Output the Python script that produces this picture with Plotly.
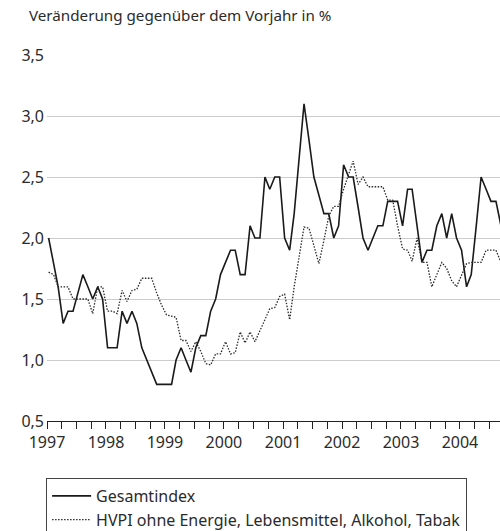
import pandas as pd
import plotly.graph_objects as go

# Monthly data Jan 1997 - Sep 2004 (annual rate in %)
gesamtindex = [
    2.0, 1.8, 1.6, 1.3, 1.4, 1.4, 1.55, 1.7, 1.6, 1.5, 1.6, 1.5,      # 1997
    1.1, 1.1, 1.1, 1.4, 1.3, 1.4, 1.3, 1.1, 1.0, 0.9, 0.8, 0.8,       # 1998
    0.8, 0.8, 1.0, 1.1, 1.0, 0.9, 1.1, 1.2, 1.2, 1.4, 1.5, 1.7,       # 1999
    1.8, 1.9, 1.9, 1.7, 1.7, 2.1, 2.0, 2.0, 2.5, 2.4, 2.5, 2.5,       # 2000
    2.0, 1.9, 2.2, 2.65, 3.1, 2.8, 2.5, 2.35, 2.2, 2.2, 2.0, 2.1,     # 2001
    2.6, 2.5, 2.5, 2.25, 2.0, 1.9, 2.0, 2.1, 2.1, 2.3, 2.3, 2.3,      # 2002
    2.1, 2.4, 2.4, 2.1, 1.8, 1.9, 1.9, 2.1, 2.2, 2.0, 2.2, 2.0,       # 2003
    1.9, 1.6, 1.7, 2.1, 2.5, 2.4, 2.3, 2.3, 2.1,                      # 2004
]
hvpi_kern = [
    1.72, 1.7, 1.6, 1.6, 1.6, 1.5, 1.5, 1.5, 1.5, 1.38, 1.6, 1.6,     # 1997
    1.4, 1.4, 1.38, 1.57, 1.48, 1.57, 1.58, 1.67, 1.67, 1.67, 1.55, 1.45,  # 1998
    1.37, 1.36, 1.35, 1.16, 1.16, 1.07, 1.15, 1.07, 0.97, 0.96, 1.05, 1.05,  # 1999
    1.15, 1.05, 1.06, 1.23, 1.14, 1.23, 1.15, 1.24, 1.33, 1.42, 1.43, 1.52,  # 2000
    1.54, 1.33, 1.6, 1.85, 2.09, 2.08, 1.93, 1.79, 1.98, 2.18, 2.26, 2.26,  # 2001
    2.4, 2.53, 2.63, 2.44, 2.5, 2.42, 2.42, 2.42, 2.42, 2.31, 2.31, 2.1,   # 2002
    1.91, 1.9, 1.81, 2.0, 1.8, 1.8, 1.6, 1.7, 1.8, 1.75, 1.65, 1.6,       # 2003
    1.7, 1.79, 1.8, 1.8, 1.8, 1.9, 1.9, 1.9, 1.8,                         # 2004
]
months = pd.date_range("1997-01-01", periods=len(gesamtindex), freq="MS") + pd.Timedelta(days=10)

series_names = ["Gesamtindex", "HVPI ohne Energie, Lebensmittel, Alkohol, Tabak"]
title_text = "Veränderung gegenüber dem Vorjahr in %"
y_ticks = [0.5, 1.0, 1.5, 2.0, 2.5, 3.0, 3.5]

FONT = "Noto Sans"
TXT = "#2b2b2b"

fig = go.Figure()
fig.add_trace(go.Scatter(x=months, y=gesamtindex, mode="lines", name=series_names[0],
                         line=dict(color="#1a1a1a", width=1.6)))
fig.add_trace(go.Scatter(x=months, y=hvpi_kern, mode="lines", name=series_names[1],
                         line=dict(color="#2a2a2a", width=1.3, dash="1.5px,1.5px")))

fig.add_annotation(text=title_text, xref="paper", yref="paper",
                   x=(27 - 47) / 453, y=1 + (55 - 15) / 366,
                   xanchor="left", yanchor="middle", align="left", showarrow=False,
                   font=dict(family=FONT, size=15.2, color=TXT))

fig.update_layout(
    width=500, height=531,
    margin=dict(l=47, r=0, t=55, b=110, autoexpand=False),
    paper_bgcolor="white", plot_bgcolor="white",
    separators=",.",
    font=dict(family=FONT, size=15, color=TXT),
    showlegend=True,
    legend=dict(x=-0.002, xanchor="left", y=(421 - 478) / 366, yanchor="top",
                bordercolor="#444444", borderwidth=1, bgcolor="white",
                font=dict(family=FONT, size=16, color=TXT),
                itemwidth=39, tracegroupgap=0),
    xaxis=dict(type="date", range=["1997-01-01", "2004-09-05"],
               showgrid=False, zeroline=False,
               showline=True, linecolor="#222222", linewidth=1,
               ticks="outside", ticklen=7, tickcolor="#222222", tickwidth=1,
               dtick="M12", tick0="1997-01-01", tickformat="%Y",
               tickfont=dict(family=FONT, size=16, color=TXT),
               minor=dict(dtick="M3", ticks="outside", ticklen=7,
                          tickcolor="#222222", tickwidth=1, showgrid=False)),
    yaxis=dict(range=[0.5, 3.5], tickvals=y_ticks, tickformat=".1f",
               showgrid=True, gridcolor="#cccccc", gridwidth=1,
               zeroline=False, showline=False, ticks="",
               ticklabelstandoff=2,
               tickfont=dict(family=FONT, size=16, color=TXT)),
)

fig.write_html("out.html", config={"displayModeBar": False},
               post_script="document.body.style.margin='0';document.body.style.overflow='hidden';")
